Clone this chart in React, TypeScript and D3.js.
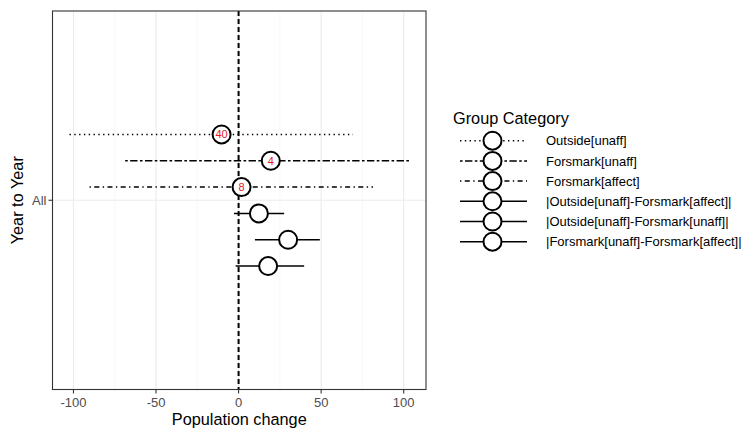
import React from 'react';
import * as d3 from 'd3';

// groups, top to bottom
const groups = [
  'Outside[unaff]',
  'Forsmark[unaff]',
  'Forsmark[affect]',
  '|Outside[unaff]-Forsmark[affect]|',
  '|Outside[unaff]-Forsmark[unaff]|',
  '|Forsmark[unaff]-Forsmark[affect]|',
];
const estimates = [-10.3, 19.5, 1.8, 12.3, 30.0, 17.9];
const lowers = [-102.4, -68.7, -90.3, -2.8, 9.9, -1.8];
const uppers = [69.3, 104.0, 81.4, 27.6, 49.2, 39.7];
const counts = ['40', '4', '8', '', '', ''];
const linetypes = ['dotted', 'twodash', 'dotdash', 'solid', 'solid', 'solid'];

const xTicks = [-100, -50, 0, 50, 100];
const xMinor = [-75, -25, 25, 75];
const yCategories = ['All'];

const dashes: Record<string, string> = {
  solid: 'none',
  dotted: '1.4,3.4',
  twodash: '2.6,2.4,7.4,2.4',
  dotdash: '1.4,3.4,5,3.4',
};

const font = 'Arial, "Liberation Sans", sans-serif';

const App = () => {
  const width = 744;
  const height = 431;
  const panel = { left: 52.5, right: 426, top: 11, bottom: 389.5 };

  const x = d3.scaleLinear().domain([-112.7, 113.5]).range([panel.left, panel.right]);
  const y = d3.scaleBand().domain(yCategories).range([panel.top, panel.bottom]);
  const yAll = (y('All') ?? 0) + y.bandwidth() / 2;
  const dodge = d3.scalePoint().domain(groups).range([yAll - 65.8, yAll + 65.8]);

  const legendX = 453;
  const legendRow = d3.scalePoint().domain(groups).range([140.7, 241.7]);

  return (
    <svg width={width} height={height} style={{ display: 'block', position: 'absolute', left: 0, top: 0 }}>
      <rect width={width} height={height} fill="#fff" />
      {xMinor.map(t => (
        <line key={'mn' + t} x1={x(t)} x2={x(t)} y1={panel.top} y2={panel.bottom} stroke="#f2f2f2" strokeWidth={0.6} />
      ))}
      {xTicks.map(t => (
        <line key={'mj' + t} x1={x(t)} x2={x(t)} y1={panel.top} y2={panel.bottom} stroke="#ebebeb" strokeWidth={1.1} />
      ))}
      <line x1={panel.left} x2={panel.right} y1={yAll} y2={yAll} stroke="#ebebeb" strokeWidth={1.1} />

      <line x1={x(0)} x2={x(0)} y1={panel.top} y2={panel.bottom} stroke="#000" strokeWidth={2} strokeDasharray="5,3" />

      {groups.map((g, i) => (
        <g key={g}>
          <line
            x1={x(lowers[i])}
            x2={x(uppers[i])}
            y1={dodge(g)}
            y2={dodge(g)}
            stroke="#000"
            strokeWidth={1.5}
            strokeDasharray={dashes[linetypes[i]]}
          />
          <circle cx={x(estimates[i])} cy={dodge(g)} r={9} fill="#fff" stroke="#000" strokeWidth={2} />
          {counts[i] && (
            <text
              x={x(estimates[i])}
              y={dodge(g)}
              dy="0.36em"
              textAnchor="middle"
              fontFamily={font}
              fontSize={11}
              fill="#e41a1c"
            >
              {counts[i]}
            </text>
          )}
        </g>
      ))}

      <rect
        x={panel.left}
        y={panel.top}
        width={panel.right - panel.left}
        height={panel.bottom - panel.top}
        fill="none"
        stroke="#333"
        strokeWidth={1.1}
      />

      {xTicks.map(t => (
        <g key={'xt' + t}>
          <line x1={x(t)} x2={x(t)} y1={panel.bottom} y2={panel.bottom + 4} stroke="#333" strokeWidth={1.1} />
          <text x={x(t)} y={407} textAnchor="middle" fontFamily={font} fontSize={13} fill="#4d4d4d">
            {t}
          </text>
        </g>
      ))}
      {yCategories.map(c => (
        <g key={'yt' + c}>
          <line x1={panel.left - 4} x2={panel.left} y1={yAll} y2={yAll} stroke="#333" strokeWidth={1.1} />
          <text x={panel.left - 6} y={yAll} dy="0.36em" textAnchor="end" fontFamily={font} fontSize={13} fill="#4d4d4d">
            {c}
          </text>
        </g>
      ))}

      <text x={(panel.left + panel.right) / 2} y={425} textAnchor="middle" fontFamily={font} fontSize={16.3} fill="#000">
        Population change
      </text>
      <text
        transform={`translate(23,${(panel.top + panel.bottom) / 2}) rotate(-90)`}
        textAnchor="middle"
        fontFamily={font}
        fontSize={16.3}
        fill="#000"
      >
        Year to Year
      </text>

      <text x={legendX} y={123.5} fontFamily={font} fontSize={16.3} fill="#000">
        Group Category
      </text>
      {groups.map((g, i) => (
        <g key={'lg' + g}>
          <line
            x1={460}
            x2={527}
            y1={legendRow(g)}
            y2={legendRow(g)}
            stroke="#000"
            strokeWidth={1.5}
            strokeDasharray={dashes[linetypes[i]]}
          />
          <circle cx={492.5} cy={legendRow(g)} r={9} fill="#fff" stroke="#000" strokeWidth={2} />
          <text x={546} y={legendRow(g)} dy="0.36em" fontFamily={font} fontSize={13} fill="#000">
            {g}
          </text>
        </g>
      ))}
    </svg>
  );
};

export default App;
